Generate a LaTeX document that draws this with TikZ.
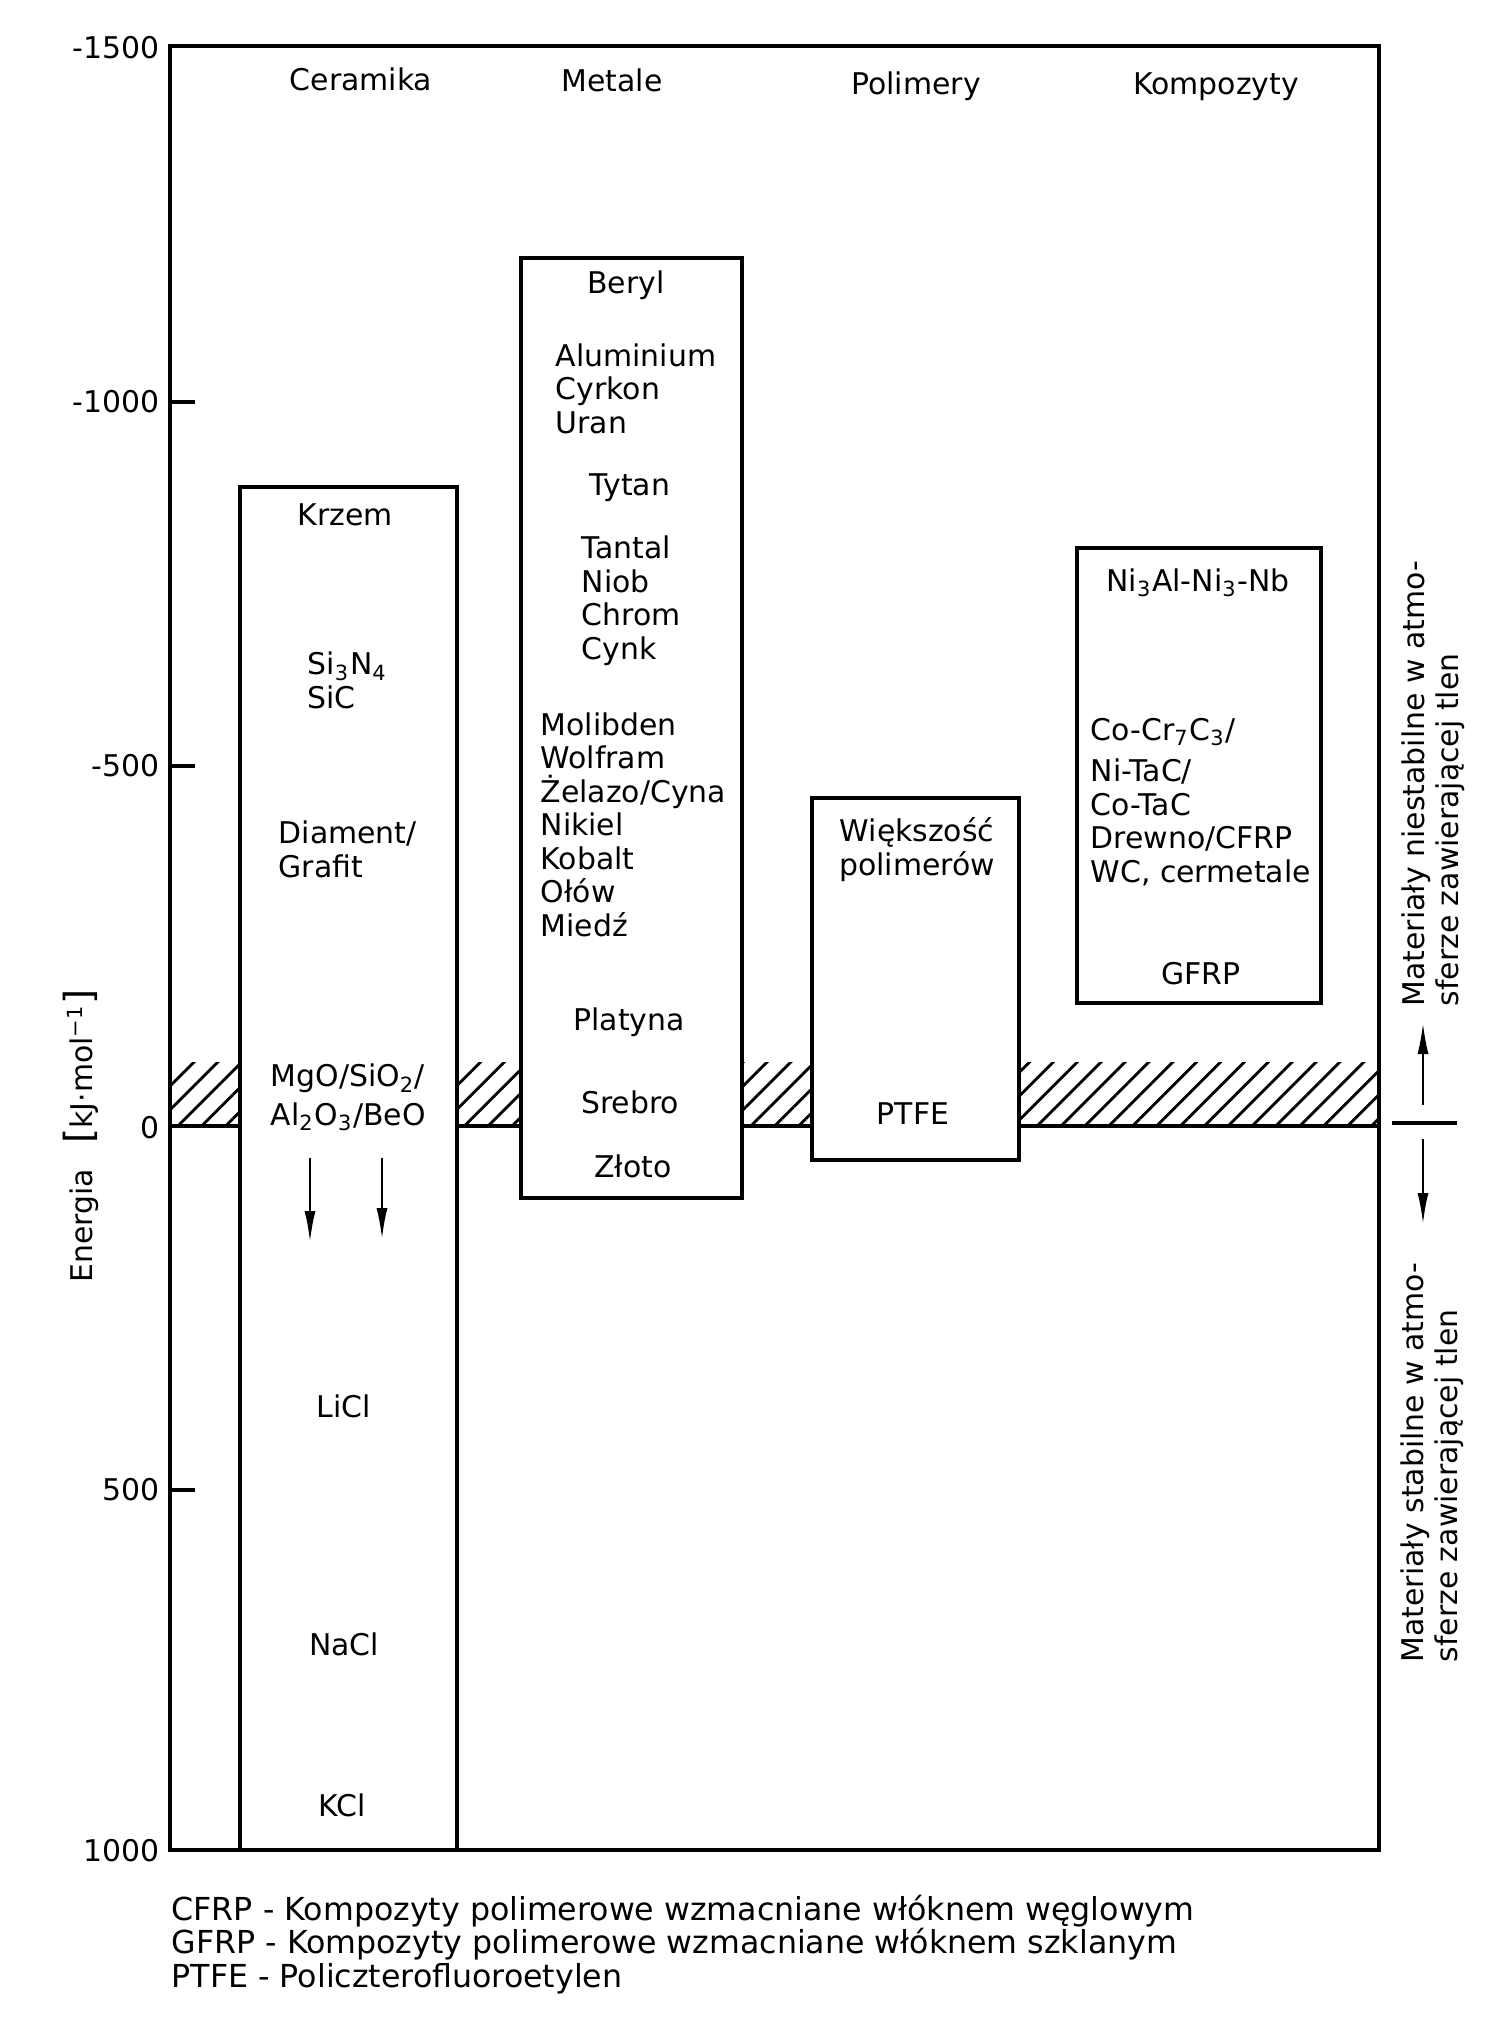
\documentclass[tikz,border=0pt]{standalone}
\usepackage{fontspec}
\setmainfont{DejaVu Sans}
\usepackage{tikz}
\usetikzlibrary{arrows.meta, patterns.meta}

\begin{document}
\begin{tikzpicture}[
      x=0.01cm, y=-0.01cm,
      ramka/.style ={line width=0.9pt},
      slupek/.style={draw, line width=1.3pt, fill=white},
      txt/.style   ={font=\fontsize{8.5}{9.5}\selectfont, inner sep=0pt},
      lista/.style ={txt, align=left, anchor=base west},
      srodek/.style={txt, anchor=base},
      skala/.style ={txt, anchor=east},
      opis/.style  ={txt, rotate=90, align=left, anchor=base west},
      strzalka/.style={->, line width=0.8pt},
      >={Latex[length=3.2mm, width=1.1mm]}
    ]

    \useasboundingbox (0,0) rectangle (1508,2020);

    % Pas zakreskowany i linia zera
    \fill[pattern={Lines[angle=45, distance=4.8pt, line width=0.8pt]}] (170,1062) rectangle (1379,1126);
    \draw[line width=1.3pt] (170,1126) -- (1379,1126);

    % Slupki grup materialow
    \draw[slupek] (240,487) rectangle (457,1850);
    \draw[slupek] (521,258) rectangle (742,1198);
    \draw[slupek] (812,798) rectangle (1019,1160);
    \draw[slupek] (1077,548) rectangle (1321,1003);

    % Ramka i os energii
    \draw[ramka] (170,46) rectangle (1379,1850);
    \draw[ramka] (170,402)  -- (195,402);
    \draw[ramka] (170,766)  -- (195,766);
    \draw[ramka] (170,1490) -- (195,1490);

    \node[skala] (t1) at (160,48)   {-1500};
    \node[skala] (t2) at (160,402)  {-1000};
    \node[skala] (t3) at (160,766)  {-500};
    \node[skala] (t4) at (160,1128) {0};
    \node[skala] (t5) at (160,1490) {500};
    \node[skala] (t6) at (160,1851) {1000};

    \node[opis] (energia) at (92,1283) {Energia\hspace{2.5mm}{\fontsize{11}{11}\selectfont[}kJ·mol\textsuperscript{−1}{\fontsize{11}{11}\selectfont]}};

    % Naglowki kolumn
    \node[srodek] (hCer) at (361,90)  {Ceramika};
    \node[srodek] (hMet) at (612,91)  {Metale};
    \node[srodek] (hPol) at (916,94)  {Polimery};
    \node[srodek] (hKom) at (1216,94) {Kompozyty};

    % Ceramika (dla kilku linii: wspolrzedna = linia bazowa ostatniej linii)
    \node[srodek] (krzem)   at (345,525)  {Krzem};
    \node[lista]  (si3n4)   at (307,708)  {Si\textsubscript{3}N\textsubscript{4}\\SiC};
    \node[lista]  (diament) at (278,877)  {Diament/\\Grafit};
    \node[lista]  (mgo)     at (270,1125) {MgO/SiO\textsubscript{2}/\\[1.5pt]Al\textsubscript{2}O\textsubscript{3}/BeO};
    \coordinate (s1) at (310,1158);
    \coordinate (k1) at (310,1243);
    \coordinate (s2) at (382,1158);
    \coordinate (k2) at (382,1240);
    \draw[strzalka] (s1) -- (k1);
    \draw[strzalka] (s2) -- (k2);
    \node[srodek] (licl) at (344,1417) {LiCl};
    \node[srodek] (nacl) at (344,1655) {NaCl};
    \node[srodek] (kcl)  at (342,1816) {KCl};

    % Metale
    \node[srodek] (beryl)   at (626,293)  {Beryl};
    \node[lista]  (alu)     at (555,433)  {Aluminium\\Cyrkon\\Uran};
    \node[srodek] (tytan)   at (630,495)  {Tytan};
    \node[lista]  (tantal)  at (581,659)  {Tantal\\Niob\\Chrom\\Cynk};
    \node[lista]  (molib)   at (540,936)  {Molibden\\Wolfram\\Żelazo/Cyna\\Nikiel\\Kobalt\\Ołów\\Miedź};
    \node[srodek] (platyna) at (629,1030) {Platyna};
    \node[srodek] (srebro)  at (630,1113) {Srebro};
    \node[srodek] (zloto)   at (633,1177) {Złoto};

    % Polimery
    \node[txt, align=center, anchor=base] (wieksz) at (917,875) {Większość\\polimerów};
    \node[srodek] (ptfe) at (913,1124) {PTFE};

    % Kompozyty
    \node[srodek] (ni3al) at (1198,591) {Ni\textsubscript{3}Al-Ni\textsubscript{3}-Nb};
    \node[lista]  (cocr)  at (1090,740) {Co-Cr\textsubscript{7}C\textsubscript{3}/};
    \node[lista]  (nitac) at (1090,882) {Ni-TaC/\\Co-TaC\\Drewno/CFRP\\WC, cermetale};
    \node[srodek] (gfrp)  at (1201,984) {GFRP};

    % Opisy po prawej stronie
    \coordinate (zL) at (1392,1123);
    \coordinate (zP) at (1457,1123);
    \draw[line width=1.1pt] (zL) -- (zP);
    \coordinate (gS) at (1423,1105);
    \coordinate (gK) at (1423,1022);
    \coordinate (dS) at (1423,1139);
    \coordinate (dK) at (1423,1225);
    \draw[strzalka] (gS) -- (gK);
    \draw[strzalka] (dS) -- (dK);
    \node[opis] (niestab) at (1458,1007) {Materiały niestabilne w atmo-\\sferze zawierającej tlen};
    \node[opis] (stab)    at (1457,1663) {Materiały stabilne w atmo-\\sferze zawierającej tlen};

    % Objasnienia skrotow
    \node[txt, font=\fontsize{9}{9.4}\selectfont, align=left, anchor=base west] (legenda) at (171,1987)
      {CFRP - Kompozyty polimerowe wzmacniane włóknem węglowym\\GFRP - Kompozyty polimerowe wzmacniane włóknem szklanym\\PTFE - Policzterofluoroetylen};

  \end{tikzpicture}
\end{document}
